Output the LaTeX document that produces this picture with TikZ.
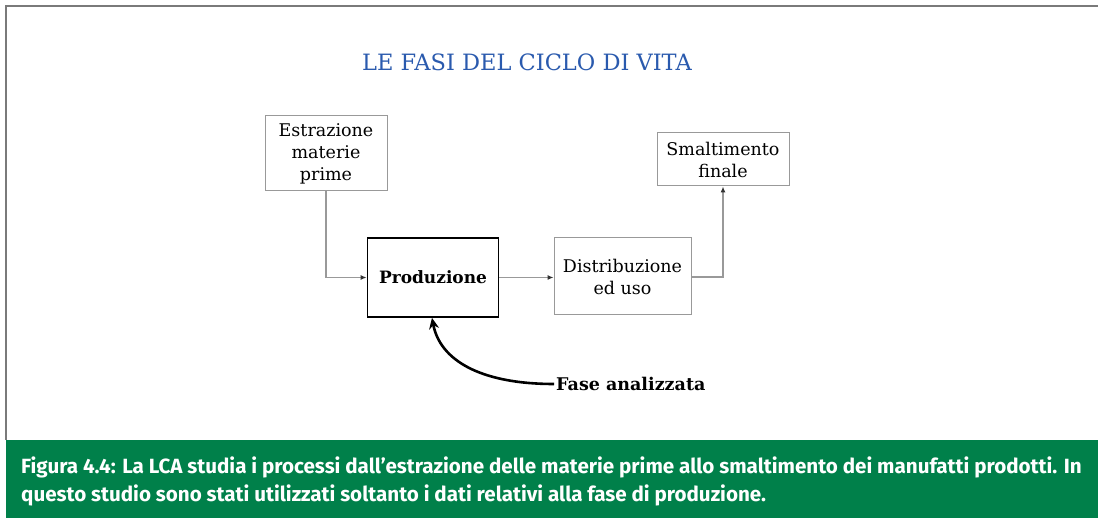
\documentclass[tikz,border=0pt]{standalone}
\usepackage{fontspec}
\setmainfont{DejaVu Serif}
\newfontfamily\capfont{Fira Sans}
\usetikzlibrary{arrows.meta}
\definecolor{frame}{HTML}{7A7A7A}
\definecolor{boxgray}{HTML}{999999}
\definecolor{titleblue}{HTML}{2A5AAE}
\definecolor{capgreen}{HTML}{00804A}
\tikzset{
  phase/.style={draw=boxgray, line width=1pt, align=center, inner sep=0pt, font=\fontsize{17.5}{22}\selectfont},
  mainphase/.style={draw=black, line width=1.8pt, align=center, inner sep=0pt, font=\fontsize{17}{22}\selectfont\bfseries},
  flow/.style={draw=boxgray, line width=1.1pt, -{Latex[length=6pt,width=5pt,color=black!80]}},
}
\begin{document}
\begin{tikzpicture}[x=1pt,y=-1pt]
\useasboundingbox (0,0) rectangle (1098,518);
\fill[white] (0,0) rectangle (1098,518);
\draw[frame, line width=2pt] (6,440) -- (6,6) -- (1098,6);
\fill[capgreen] (6,440) rectangle (1098,518);
\node[titleblue, font=\fontsize{22.5}{26}\selectfont] (title) at (527,62) {LE FASI DEL CICLO DI VITA};
\node[phase, minimum width=122pt, minimum height=75pt] (estr) at (326,153.5) {Estrazione\\materie\\prime};
\node[mainphase, minimum width=131pt, minimum height=79pt] (prod) at (433,277.5) {Produzione};
\node[phase, minimum width=137pt, minimum height=77pt] (distr) at (622.5,276.5) {Distribuzione\\ed uso};
\node[phase, minimum width=132pt, minimum height=53pt] (smalt) at (723,159.5) {Smaltimento\\finale};
\node[font=\fontsize{17.5}{22}\selectfont\bfseries, anchor=west, inner sep=2pt] (fase) at (554,384) {Fase analizzata};
\draw[flow] (estr.south) |- (prod.west);
\draw[flow] (prod.east) -- (prod.east -| distr.west);
\coordinate (turn) at (723,277);
\draw[flow] (distr.east |- turn) -- (turn) -- (smalt.south);
\draw[line width=2.6pt, -{Stealth[length=11pt,width=10pt]}] (fase.west) .. controls (480,384) and (440,360) .. (prod.south -| 432,0);
\node[white, font=\capfont\fontsize{20.6}{28}\selectfont\bfseries, anchor=north west, align=left, inner sep=0pt] (cap) at (21,457)
{Figura 4.4: La LCA studia i processi dall’estrazione delle materie prime allo smaltimento dei manufatti prodotti. In\\questo studio sono stati utilizzati soltanto i dati relativi alla fase di produzione.};
\end{tikzpicture}
\end{document}
